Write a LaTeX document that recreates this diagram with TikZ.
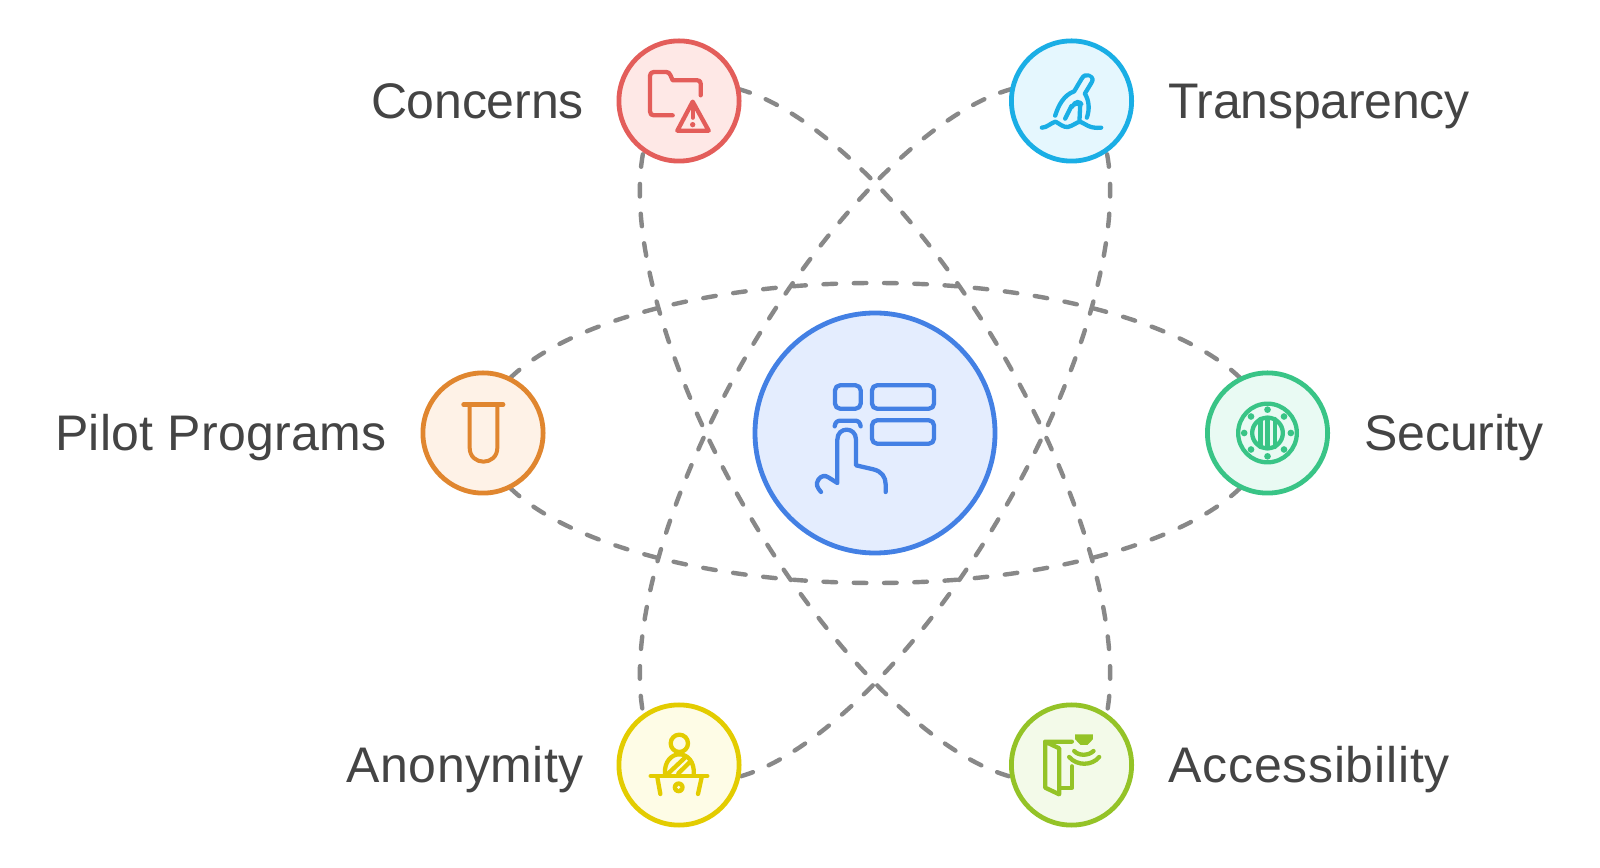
\documentclass[tikz,border=0pt]{standalone}
\usepackage{fontspec}
\setmainfont{Liberation Sans}
\usetikzlibrary{calc,backgrounds}
\definecolor{txt}{HTML}{444444}
\definecolor{link}{HTML}{888888}
\definecolor{hubC}{HTML}{4380E4}\definecolor{hubF}{HTML}{E4EDFE}
\definecolor{conC}{HTML}{E35D5A}\definecolor{conF}{HTML}{FEE8E6}
\definecolor{traC}{HTML}{1AAEE5}\definecolor{traF}{HTML}{E5F7FE}
\definecolor{pilC}{HTML}{E0862F}\definecolor{pilF}{HTML}{FEF2E7}
\definecolor{secC}{HTML}{39C486}\definecolor{secF}{HTML}{E9FAF3}
\definecolor{anoC}{HTML}{E3CC00}\definecolor{anoF}{HTML}{FEFCE6}
\definecolor{accC}{HTML}{94C327}\definecolor{accF}{HTML}{F3FAE9}
\tikzset{
  x=0.5pt,y=0.5pt,
  ring/.style={circle,line width=2.4pt,inner sep=0pt,outer sep=0pt,minimum size=60.1pt},
  hubring/.style={ring,minimum size=120pt},
  lab/.style={text=txt,font=\fontsize{25}{28}\selectfont,inner sep=0pt},
  conn/.style={draw=link,line width=2.2pt,line cap=round},
  connH/.style={conn,dash pattern=on 6.3pt off 8.84pt,dash phase=14.1pt},
  connS/.style={conn,dash pattern=on 6.3pt off 8.6pt,dash phase=10.7pt},
  connL/.style={conn,dash pattern=on 6.3pt off 8.6pt,dash phase=4.45pt},
  icon/.style={line width=2.15pt,line cap=round,line join=round},
  zoomed/.style={x=0.16667pt,y=-0.16667pt},
}
% curve from node #1 to node #2, direction #3, half length #4, signed half width #5, style #6
\newcommand{\halfoval}[6]{%
  \draw[#6] (#1.center)
   .. controls ($(#1.center)+(#3+90:0.5523*#5)$) and ($(hub)+(#3+90:#5)+(#3+180:0.5523*#4)$) .. ($(hub)+(#3+90:#5)$)
   .. controls ($(hub)+(#3+90:#5)+(#3:0.5523*#4)$) and ($(#2.center)+(#3+90:0.5523*#5)$) .. (#2.center);}
% same, through the oval's tips #7 and #8, which lie just beside the nodes
\newcommand{\tippedoval}[8]{%
  \draw[#6] (#1.center) -- (#7)
   .. controls ($(#7)+(#3+90:0.5523*#5)$) and ($(hub)+(#3+90:#5)+(#3+180:0.5523*#4)$) .. ($(hub)+(#3+90:#5)$)
   .. controls ($(hub)+(#3+90:#5)+(#3:0.5523*#4)$) and ($(#8)+(#3+90:0.5523*#5)$) .. (#8) -- (#2.center);}
\begin{document}
\begin{tikzpicture}
\useasboundingbox (0,0) rectangle (1600,867);
\node[hubring,draw=hubC,fill=hubF] (hub) at (875,434) {};
\node[ring,draw=conC,fill=conF] (concerns) at (679,766) {};
\node[ring,draw=traC,fill=traF] (transparency) at (1071.5,766) {};
\node[ring,draw=pilC,fill=pilF] (pilot) at (483,434) {};
\node[ring,draw=secC,fill=secF] (security) at (1267.5,434) {};
\node[ring,draw=anoC,fill=anoF] (anonymity) at (679,102) {};
\node[ring,draw=accC,fill=accF] (accessibility) at (1071.5,102) {};
\coordinate (tipcon) at ($(hub)+(120:392)$);
\coordinate (tiptra) at ($(hub)+(60:392)$);
\coordinate (tipano) at ($(hub)+(240:392)$);
\coordinate (tipacc) at ($(hub)+(300:392)$);

\node[lab,anchor=base east] (lconcerns) at (584,748) {\addfontfeature{LetterSpace=-0.4}Concerns};
\node[lab,anchor=base west] (ltransparency) at (1168,748) {\addfontfeature{LetterSpace=-0.5}Transparency};
\node[lab,anchor=base east] (lpilot) at (387,416.5) {\addfontfeature{LetterSpace=0.6}Pilot Programs};
\node[lab,anchor=base west] (lsecurity) at (1364,416.5) {\addfontfeature{LetterSpace=-0.4}Security};
\node[lab,anchor=base east] (lanonymity) at (584,84.5) {\addfontfeature{LetterSpace=0.8}Anonymity};
\node[lab,anchor=base west] (laccessibility) at (1168,84.5) {\addfontfeature{LetterSpace=1.5}Accessibility};

\begin{scope}[on background layer]
\fill[white] (0,0) rectangle (1600,867);
\halfoval{pilot}{security}{0}{392}{150}{connH}
\halfoval{pilot}{security}{0}{392}{-150}{connH}
\tippedoval{concerns}{accessibility}{-60}{392}{150}{connS}{tipcon}{tipacc}
\tippedoval{concerns}{accessibility}{-60}{392}{-150}{connL}{tipcon}{tipacc}
\tippedoval{transparency}{anonymity}{-120}{392}{150}{connL}{tiptra}{tipano}
\tippedoval{transparency}{anonymity}{-120}{392}{-150}{connS}{tiptra}{tipano}
\end{scope}

% hub icon
\begin{scope}[shift={(hub)},zoomed,shift={(-405,-398)},icon,draw=hubC]
\draw[rounded corners=2.5pt] (285,255) rectangle (362,325);
\draw[rounded corners=2.5pt] (396,255) rectangle (582,325);
\draw[rounded corners=2.5pt] (396,360) rectangle (582,430);
\draw (284,378) .. controls (286,365) and (292,361) .. (302,361) -- (344,361) .. controls (354,361) and (360,365) .. (362,378);
\draw (243,575) .. controls (232,562) and (226,552) .. (235,538) .. controls (243,526) and (255,524) .. (265,531) -- (292,548) -- (292,418)
 .. controls (292,378) and (348,378) .. (348,418) -- (348,495) -- (400,507) .. controls (425,513) and (437,530) .. (437,552) -- (437,575);
\end{scope}
% concerns icon
\begin{scope}[shift={(concerns)},zoomed,shift={(-237,-212)},icon,draw=conC]
\draw (218,255) -- (162,255) .. controls (154,255) and (150,251) .. (150,243) -- (150,137) .. controls (150,129) and (154,125) .. (162,125) -- (198,125) .. controls (205,125) and (208,128) .. (211,134) -- (218,150) -- (292,150) .. controls (299,150) and (302,153) .. (302,160) -- (302,195);
\draw (278,214) -- (326,301) -- (232,301) -- cycle;
\draw (278,228) -- (278,262);
\fill[conC] (278,283) circle (8);
\end{scope}
% transparency icon
\begin{scope}[shift={(transparency)},zoomed,shift={(-214,-212)},icon,draw=traC]
\draw (125,292) .. controls (140,292) and (152,278) .. (166,274) .. controls (178,280) and (190,292) .. (203,290) .. controls (220,286) and (228,276) .. (240,274) .. controls (255,280) and (268,296) .. (303,292);
\draw (165,256) .. controls (175,225) and (190,195) .. (222,183) -- (244,146) .. controls (250,135) and (258,132) .. (266,136) -- (274,141) .. controls (280,146) and (278,150) .. (274,157) -- (254,190) .. controls (268,212) and (268,240) .. (260,262);
\draw (195,265) -- (214,227);
\draw (240,225) -- (238,268);
\fill[traC] (212,228) .. controls (218,203) and (245,203) .. (250,222) -- (240,232) .. controls (235,224) and (225,224) .. (218,236) -- cycle;
\fill[traF] (264,147) circle (6);
\end{scope}
% pilot icon
\begin{scope}[shift={(pilot)},zoomed,shift={(-218,-218)},icon,draw=pilC]
\draw[line width=2.4pt] (160,133) -- (278,133);
\draw[line width=2pt] (178,133) -- (178,262) .. controls (178,318) and (261,318) .. (261,262) -- (261,133);
\end{scope}
% security icon
\begin{scope}[shift={(security)},zoomed,shift={(-218,-218)},icon,draw=secC]
\draw (218,218) circle (88);
\draw (218,218) circle (46);
\draw (197,176) -- (197,260) (218,172) -- (218,264) (240,176) -- (240,260);
\foreach \a in {0,45,...,315} \fill[secC] ($(218,218)+(\a:70)$) circle (10);
\end{scope}
% anonymity icon
\begin{scope}[shift={(anonymity)},zoomed,shift={(-237,-225)},icon,draw=anoC]
\draw (238,160) circle (26);
\draw (195,252) .. controls (192,215) and (215,193) .. (238,193) .. controls (262,193) and (284,215) .. (281,252);
\draw (205,250) -- (255,203) (235,250) -- (272,214);
\draw (152,258) -- (322,258);
\draw (172,262) -- (181,312) (305,262) -- (294,312);
\fill[anoC] (236,292) circle (18);
\fill[anoF] (236,292) circle (5);
\end{scope}
% accessibility icon
\begin{scope}[shift={(accessibility)},zoomed,shift={(-214,-222)},icon,draw=accC]
\draw (215,152) -- (135,152) -- (135,290) -- (177,310) -- (177,172) -- (135,152);
\draw (215,226) -- (215,290) -- (177,290);
\fill[accC] (225,130) -- (278,130) -- (278,145) -- (262,162) -- (241,162) -- (225,145) -- cycle;
\draw (222,180) .. controls (235,195) and (265,195) .. (280,180);
\draw (207,198) .. controls (230,225) and (275,225) .. (297,198);
\end{scope}
\end{tikzpicture}
\end{document}
